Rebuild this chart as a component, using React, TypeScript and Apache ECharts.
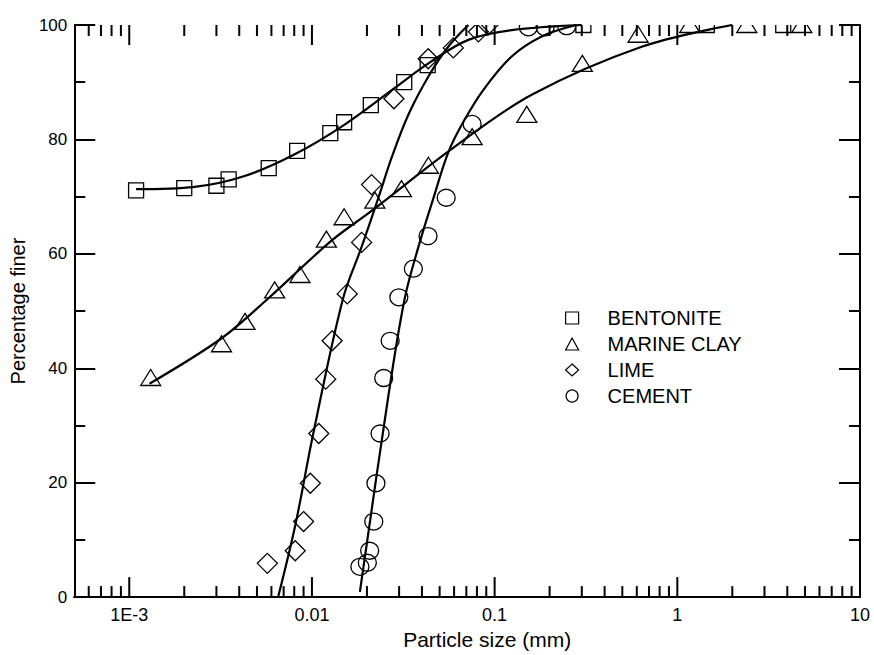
import React, { useEffect, useRef } from 'react';
import * as echarts from 'echarts';

// ---------- data ----------
const seriesNames = ['BENTONITE', 'MARINE CLAY', 'LIME', 'CEMENT'];

// measured points [particle size (mm), percentage finer]
const bentonitePoints = [
  [0.00109, 71.1], [0.002, 71.5], [0.003, 71.9], [0.0035, 73.0], [0.0058, 75.0],
  [0.0083, 78.0], [0.0126, 81.1], [0.015, 83.0], [0.021, 86.0], [0.032, 90.0],
  [0.043, 93.0], [0.306, 100], [1.45, 100], [3.8, 100],
];
const marineClayPoints = [
  [0.00131, 38.3], [0.0032, 44.2], [0.0043, 48.1], [0.00625, 53.6], [0.0086, 56.3],
  [0.012, 62.5], [0.015, 66.4], [0.0221, 69.3], [0.0309, 71.3], [0.0434, 75.4],
  [0.0753, 80.4], [0.15, 84.3], [0.302, 93.2], [0.61, 98.3], [1.17, 100],
  [2.4, 100], [4.8, 100],
];
const limePoints = [
  [0.0057, 5.9], [0.0081, 8.1], [0.009, 13.2], [0.0098, 19.9], [0.0109, 28.6],
  [0.0119, 38.1], [0.0129, 44.8], [0.0156, 53.0], [0.0187, 62.0], [0.0212, 72.1],
  [0.0281, 87.1], [0.0433, 94.1], [0.0594, 96.0], [0.0815, 98.8], [0.092, 100],
];
const cementPoints = [
  [0.0183, 5.3], [0.0201, 6.0], [0.0207, 8.1], [0.0218, 13.2], [0.0224, 19.9],
  [0.0236, 28.6], [0.0247, 38.3], [0.0268, 44.8], [0.0299, 52.4], [0.0359, 57.4],
  [0.0432, 63.1], [0.0543, 69.8], [0.0753, 82.7], [0.153, 99.6], [0.189, 99.6],
  [0.248, 99.8],
];

// fitted curves
const bentoniteCurve = [
  [0.00109, 71.3], [0.00228, 71.7], [0.00428, 73.6], [0.00805, 77.4], [0.0151, 82.6],
  [0.0284, 89.0], [0.0434, 93.3], [0.0718, 97.4], [0.124, 99.1], [0.3, 100],
];
const marineClayCurve = [
  [0.00129, 37.3], [0.00319, 45.2], [0.00576, 52.2], [0.0128, 62.3], [0.0212, 67.5],
  [0.0581, 78.3], [0.1595, 87.8], [0.638, 96.2], [2.0, 100],
];
const limeCurve = [
  [0.00653, 0], [0.0081, 12.5], [0.0102, 28.8], [0.0148, 52.2], [0.0187, 61.2],
  [0.023, 69.6], [0.0273, 76.8], [0.0337, 84.3], [0.0434, 91.0], [0.0557, 96.2],
  [0.0718, 100],
];
const cementCurve = [
  [0.0183, 0.9], [0.0261, 34.8], [0.0322, 52.2], [0.0389, 62.0], [0.0461, 69.6],
  [0.0557, 77.7], [0.067, 82.9], [0.087, 88.7], [0.124, 94.5], [0.181, 98.0],
  [0.28, 100],
];

// axes
const xMin = 0.0005;
const xMax = 10;
const xTickValues = [0.001, 0.01, 0.1, 1, 10];
const xTickLabels = ['1E-3', '0.01', '0.1', '1', '10'];
const xMinorTicks = [
  0.0006, 0.0007, 0.0008, 0.0009,
  0.002, 0.003, 0.004, 0.005, 0.006, 0.007, 0.008, 0.009,
  0.02, 0.03, 0.04, 0.05, 0.06, 0.07, 0.08, 0.09,
  0.2, 0.3, 0.4, 0.5, 0.6, 0.7, 0.8, 0.9,
  2, 3, 4, 5, 6, 7, 8, 9,
];
const yMin = 0;
const yMax = 100;
const yInterval = 20;

const xAxisName = 'Particle size (mm)';
const yAxisName = 'Percentage finer';

const FONT = '"Liberation Sans", Arial, Helvetica, sans-serif';

type Kind = 'square' | 'triangle' | 'diamond' | 'circle';

const markerStyle = { fill: 'none', stroke: '#000', lineWidth: 1.3 };

function markerRenderer(kind: Kind) {
  return (params: any, api: any) => {
    const p = api.coord([api.value(0), api.value(1)]);
    const x = p[0];
    const y = p[1];
    if (kind === 'square') {
      return { type: 'rect', shape: { x: x - 7.5, y: y - 7.5, width: 15, height: 15 }, style: markerStyle };
    }
    if (kind === 'triangle') {
      return {
        type: 'polygon',
        shape: { points: [[x, y - 8.5], [x + 10, y + 7.5], [x - 10, y + 7.5]] },
        style: markerStyle,
      };
    }
    if (kind === 'diamond') {
      return {
        type: 'polygon',
        shape: { points: [[x, y - 10], [x + 10, y], [x, y + 10], [x - 10, y]] },
        style: markerStyle,
      };
    }
    return { type: 'ellipse', shape: { cx: x, cy: y, rx: 9, ry: 8.5 }, style: markerStyle };
  };
}

function tickRenderer(len: number) {
  return (params: any, api: any) => {
    const x = api.coord([api.value(0), 50])[0];
    const cs = params.coordSys;
    const yb = cs.y + cs.height;
    const yt = cs.y;
    const st = { stroke: '#000', lineWidth: 2 };
    return {
      type: 'group',
      children: [
        { type: 'line', shape: { x1: x, y1: yb, x2: x, y2: yb - len }, style: st },
        { type: 'line', shape: { x1: x, y1: yt, x2: x, y2: yt + len }, style: st },
      ],
    };
  };
}

function tickSeries(name: string, values: number[], len: number) {
  return {
    type: 'custom',
    name,
    data: values.map((v) => [v, 50]),
    encode: { x: 0, y: 1 },
    clip: false,
    silent: true,
    z: 4,
    renderItem: tickRenderer(len),
  };
}

function markerSeries(name: string, kind: Kind, data: number[][]) {
  return {
    type: 'custom',
    name,
    data,
    encode: { x: 0, y: 1 },
    clip: true,
    z: 3,
    itemStyle: { color: '#fff', borderColor: '#000' },
    renderItem: markerRenderer(kind),
  };
}

function curveSeries(name: string, data: number[][]) {
  return {
    type: 'line',
    name,
    data,
    showSymbol: false,
    smooth: 0.35,
    clip: true,
    z: 2,
    lineStyle: { color: '#000', width: 2.2 },
    itemStyle: { color: '#000' },
    silent: true,
  };
}

const axisLineStyle = { color: '#000', width: 2 };

export default function App() {
  const ref = useRef<HTMLDivElement>(null);

  useEffect(() => {
    if (!ref.current) return;
    const chart = echarts.init(ref.current, null, { renderer: 'svg' });
    const xFormatter = (v: number) => {
      const i = xTickValues.findIndex((t) => Math.abs(Math.log10(v) - Math.log10(t)) < 1e-6);
      return i >= 0 ? xTickLabels[i] : '';
    };
    const yAxisCommon = {
      type: 'value',
      min: yMin,
      max: yMax,
      interval: yInterval,
      axisLine: { show: true, lineStyle: axisLineStyle },
      axisTick: { show: true, inside: true, length: 21, lineStyle: { color: '#000', width: 2 } },
      minorTick: { show: true, splitNumber: 2, length: 11, lineStyle: { color: '#000', width: 2 } },
      splitLine: { show: false },
      minorSplitLine: { show: false },
    };
    const xAxisCommon = {
      type: 'log',
      logBase: 10,
      min: xMin,
      max: xMax,
      axisLine: { show: true, lineStyle: axisLineStyle },
      axisTick: { show: false },
      splitLine: { show: false },
    };
    chart.setOption({
      animation: false,
      backgroundColor: '#fff',
      textStyle: { fontFamily: FONT },
      grid: { left: 72, right: 14, top: 25, bottom: 55, containLabel: false },
      xAxis: [
        {
          ...xAxisCommon,
          position: 'bottom',
          name: xAxisName,
          nameLocation: 'middle',
          nameGap: 30,
          nameTextStyle: { fontSize: 21, color: '#000', fontFamily: FONT, padding: [0, 0, 0, 40] },
          axisLabel: { show: true, fontSize: 18, color: '#000', margin: 9, fontFamily: FONT, formatter: xFormatter },
        },
        {
          ...xAxisCommon,
          position: 'top',
          axisLabel: { show: false },
        },
      ],
      yAxis: [
        {
          ...yAxisCommon,
          position: 'left',
          name: yAxisName,
          nameLocation: 'middle',
          nameGap: 45,
          nameTextStyle: { fontSize: 20, color: '#000', fontFamily: FONT, padding: [0, 0, 0, 0] },
          axisLabel: { show: true, fontSize: 17, color: '#000', margin: 7, fontFamily: FONT },
        },
        {
          ...yAxisCommon,
          position: 'right',
          axisLabel: { show: false },
        },
      ],
      legend: {
        orient: 'vertical',
        left: 560,
        top: 303,
        itemWidth: 13,
        itemHeight: 12,
        itemGap: 6,
        selectedMode: false,
        itemStyle: { color: '#fff', borderColor: '#000', borderWidth: 1.2 },
        textStyle: { fontSize: 20, color: '#000', fontFamily: FONT, lineHeight: 20, padding: [0, 0, 0, 24] },
        data: [
          { name: seriesNames[0], icon: 'rect' },
          { name: seriesNames[1], icon: 'triangle' },
          { name: seriesNames[2], icon: 'diamond' },
          { name: seriesNames[3], icon: 'circle' },
        ],
      },
      series: [
        curveSeries('BENTONITE curve', bentoniteCurve),
        curveSeries('MARINE CLAY curve', marineClayCurve),
        curveSeries('LIME curve', limeCurve),
        curveSeries('CEMENT curve', cementCurve),
        markerSeries(seriesNames[0], 'square', bentonitePoints),
        markerSeries(seriesNames[1], 'triangle', marineClayPoints),
        markerSeries(seriesNames[2], 'diamond', limePoints),
        markerSeries(seriesNames[3], 'circle', cementPoints),
        tickSeries('major ticks', xTickValues.slice(0, 4), 20),
        tickSeries('minor ticks', xMinorTicks, 11),
      ],
    });
    return () => chart.dispose();
  }, []);

  return (
    <div
      ref={ref}
      style={{ position: 'absolute', left: 0, top: 0, width: 874, height: 655, background: '#fff' }}
    />
  );
}
